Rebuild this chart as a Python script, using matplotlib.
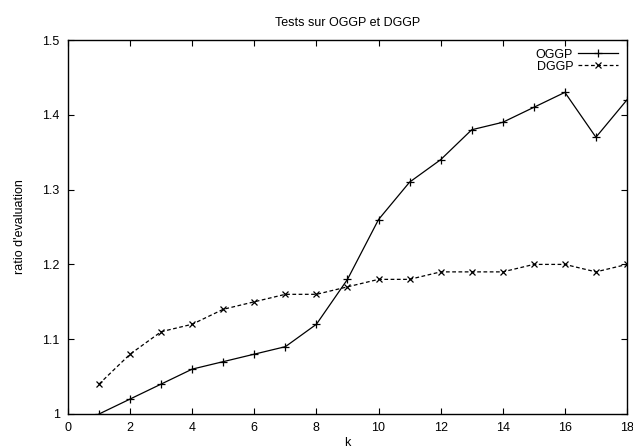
import matplotlib
matplotlib.use("Agg")
import matplotlib.pyplot as plt

# Evaluation ratio for each k
k = list(range(1, 19))
oggp = [1.00, 1.02, 1.04, 1.06, 1.07, 1.08, 1.09, 1.12, 1.18, 1.26,
        1.31, 1.34, 1.38, 1.39, 1.41, 1.43, 1.37, 1.42]
dggp = [1.04, 1.08, 1.11, 1.12, 1.14, 1.15, 1.16, 1.16, 1.17, 1.18,
        1.18, 1.19, 1.19, 1.19, 1.20, 1.20, 1.19, 1.20]

x_ticks = [0, 2, 4, 6, 8, 10, 12, 14, 16, 18]
y_ticks = [1.0, 1.1, 1.2, 1.3, 1.4, 1.5]
y_tick_labels = ["1", "1.1", "1.2", "1.3", "1.4", "1.5"]

plt.rcParams["font.family"] = ["Liberation Sans", "DejaVu Sans"]
plt.rcParams["font.size"] = 9

fig = plt.figure(figsize=(6.33, 4.48), dpi=100)
ax = fig.add_axes([0.1074, 0.0759, 0.8831, 0.8348])

ax.plot(k, oggp, color="black", lw=0.9, marker="+", ms=6, mew=0.9, label="OGGP")
ax.plot(k, dggp, color="black", lw=0.9, ls=(0, (3, 2)), marker="x", ms=5,
        mew=0.9, label="DGGP")

ax.set_xlim(0, 18)
ax.set_ylim(1.0, 1.5)
ax.set_xticks(x_ticks)
ax.set_yticks(y_ticks)
ax.set_yticklabels(y_tick_labels)
ax.tick_params(direction="in", top=True, right=True, length=4.5, width=0.8,
               pad=6, labelsize=9)
for s in ax.spines.values():
    s.set_linewidth(1.0)

ax.set_title("Tests sur OGGP et DGGP", fontsize=9, pad=10)
ax.set_xlabel("k", fontsize=9, labelpad=2)
ax.set_ylabel("ratio d'evaluation", fontsize=9, labelpad=12)

leg = ax.legend(loc="upper right", frameon=False, markerfirst=False,
                handlelength=3.2, handletextpad=0.4, labelspacing=0.0,
                borderaxespad=0.3, fontsize=9)

fig.savefig("out.png", dpi=100)
